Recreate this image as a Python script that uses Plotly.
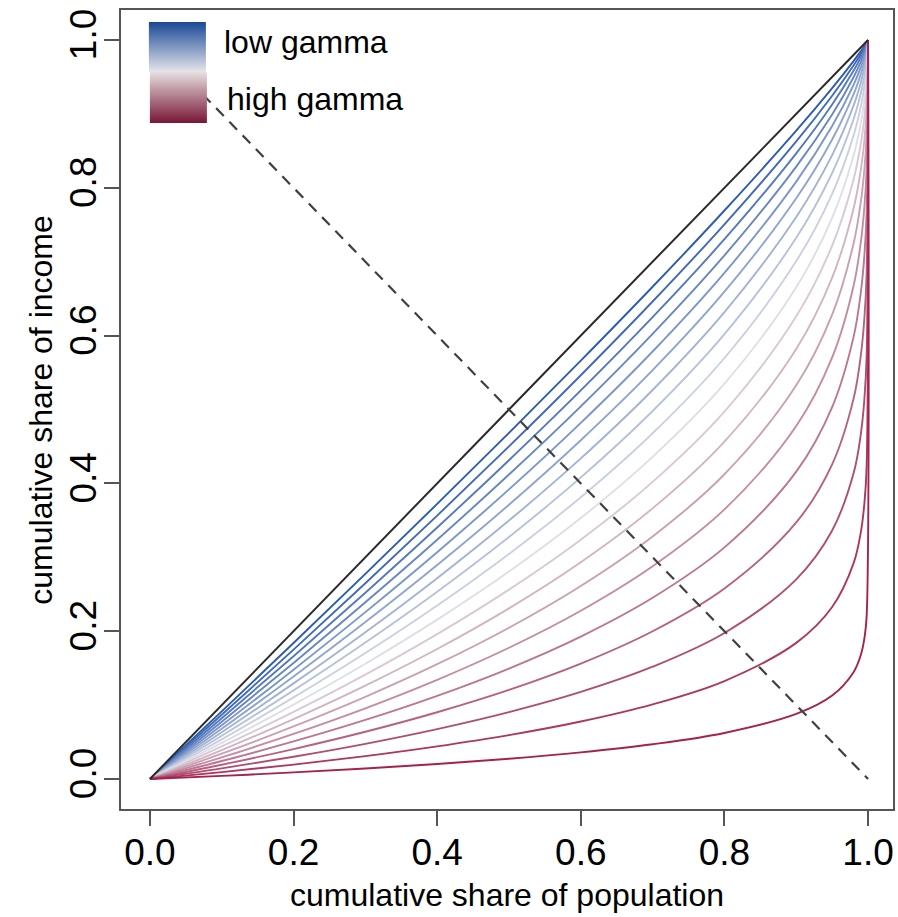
import plotly.graph_objects as go

# ---------------- data ----------------
population_share = [0.0, 0.1, 0.2, 0.3, 0.4, 0.5, 0.6, 0.7, 0.8, 0.9,
                    0.95, 0.98, 0.99, 0.995, 0.998, 1.0]

# cumulative income share for each curve, ordered from high gamma to low gamma
curve_high_01 = [0, .0042, .0089, .0142, .0202, .0273, .0360, .0470, .0623, .0880, .1129, .1449, .1682, .1910, .2201, 1]
curve_high_02 = [0, .0093, .0195, .0310, .0442, .0594, .0778, .1010, .1326, .1842, .2327, .2924, .3344, .3740, .4227, 1]
curve_high_03 = [0, .0143, .0301, .0476, .0675, .0905, .1178, .1519, .1976, .2702, .3362, .4144, .4674, .5156, .5727, 1]
curve_high_04 = [0, .0193, .0405, .0639, .0903, .1205, .1561, .1999, .2578, .3472, .4258, .5154, .5738, .6252, .6837, 1]
curve_high_05 = [0, .0243, .0508, .0799, .1125, .1495, .1927, .2452, .3134, .4160, .5033, .5990, .6590, .7099, .7658, 1]
curve_high_06 = [0, .0293, .0610, .0957, .1342, .1776, .2277, .2879, .3648, .4776, .5704, .6682, .7271, .7756, .8267, 1]
curve_mid_07 = [0, .0342, .0711, .1112, .1553, .2047, .2612, .3282, .4124, .5327, .6283, .7254, .7816, .8263, .8717, 1]
curve_mid_08 = [0, .0391, .0811, .1264, .1759, .2309, .2933, .3662, .4565, .5820, .6785, .7728, .8253, .8656, .9050, 1]
curve_mid_09 = [0, .0440, .0909, .1413, .1961, .2563, .3239, .4021, .4972, .6261, .7219, .8120, .8602, .8960, .9297, 1]
curve_mid_10 = [0, .0489, .1007, .1560, .2157, .2808, .3532, .4359, .5349, .6655, .7594, .8444, .8881, .9195, .9480, 1]
curve_mid_11 = [0, .0537, .1104, .1705, .2348, .3046, .3813, .4679, .5697, .7008, .7919, .8713, .9105, .9377, .9615, 1]
curve_mid_12 = [0, .0585, .1199, .1847, .2535, .3275, .4081, .4980, .6020, .7323, .8200, .8935, .9284, .9518, .9715, 1]
curve_mid_13 = [0, .0633, .1294, .1986, .2718, .3497, .4338, .5264, .6318, .7606, .8443, .9118, .9427, .9627, .9789, 1]
curve_low_14 = [0, .0681, .1387, .2123, .2895, .3711, .4584, .5532, .6594, .7858, .8653, .9270, .9541, .9712, .9844, 1]
curve_low_15 = [0, .0728, .1480, .2258, .3069, .3919, .4819, .5785, .6849, .8084, .8835, .9396, .9633, .9777, .9884, 1]
curve_low_16 = [0, .0775, .1571, .2391, .3238, .4120, .5043, .6024, .7085, .8286, .8992, .9500, .9706, .9827, .9914, 1]
curve_low_17 = [0, .0822, .1662, .2521, .3403, .4314, .5258, .6249, .7304, .8467, .9128, .9587, .9765, .9866, .9937, 1]
curve_low_18 = [0, .0869, .1751, .2649, .3564, .4501, .5464, .6461, .7506, .8628, .9246, .9658, .9812, .9897, .9953, 1]
curve_low_19 = [0, .0915, .1840, .2775, .3722, .4683, .5661, .6661, .7693, .8773, .9348, .9717, .9849, .9920, .9965, 1]

income_curves = [curve_high_01, curve_high_02, curve_high_03, curve_high_04, curve_high_05,
                 curve_high_06, curve_mid_07, curve_mid_08, curve_mid_09, curve_mid_10,
                 curve_mid_11, curve_mid_12, curve_mid_13, curve_low_14, curve_low_15,
                 curve_low_16, curve_low_17, curve_low_18, curve_low_19]

equality_x = [0.0, 1.0]
equality_y = [0.0, 1.0]
antidiag_x = [0.0, 1.0]
antidiag_y = [1.0, 0.0]

tick_vals = [0.0, 0.2, 0.4, 0.6, 0.8, 1.0]
tick_text = ["0.0", "0.2", "0.4", "0.6", "0.8", "1.0"]

legend_labels = ["low gamma", "high gamma"]

# ---------------- styling helpers ----------------
RED = (163, 35, 78)
MID = (222, 222, 230)
BLUE = (44, 92, 176)


def mix(c1, c2, t):
    return tuple(round(a + (b - a) * t) for a, b in zip(c1, c2))


def ramp(t):
    # t = 0 -> high gamma (red), t = 1 -> low gamma (blue)
    if t <= 0.5:
        c = mix(RED, MID, t / 0.5)
    else:
        c = mix(MID, BLUE, (t - 0.5) / 0.5)
    return "rgb(%d,%d,%d)" % c


FONT = "Liberation Sans, Arial, Helvetica, sans-serif"
W, H = 898, 917
L_PX, R_PX, T_PX, B_PX = 121, 895, 10, 809


def paper_x(px):
    return (px - L_PX) / (R_PX - L_PX)


def paper_y(py):
    return (B_PX - py) / (B_PX - T_PX)


fig = go.Figure()

n = len(income_curves)
# draw low gamma (blue) first so the high-gamma (red) curves sit on top
for i in reversed(range(n)):
    ys = income_curves[i]
    fig.add_trace(go.Scatter(
        x=population_share, y=ys, mode="lines",
        line=dict(color=ramp(i / (n - 1)), width=1.9, shape="spline", smoothing=1.0),
        showlegend=False, hoverinfo="skip"))

fig.add_trace(go.Scatter(x=equality_x, y=equality_y, mode="lines",
                         line=dict(color="#2a2a2a", width=2),
                         showlegend=False, hoverinfo="skip"))
fig.add_trace(go.Scatter(x=antidiag_x, y=antidiag_y, mode="lines",
                         line=dict(color="#404040", width=2.2, dash="11px,8px"),
                         showlegend=False, hoverinfo="skip"))

# legend gradient boxes
shapes = []
nstrips = 50
blue_top, blue_bot = (27, 74, 150), (228, 228, 234)
red_top, red_bot = (228, 222, 222), (122, 24, 56)
bx0, bx1, by0, by1 = 149, 206, 22, 72
rx0, rx1, ry0, ry1 = 150, 207, 72, 123
for k in range(nstrips):
    t = k / (nstrips - 1)
    y0 = by0 + (by1 - by0) * k / nstrips
    y1 = min(by1, by0 + (by1 - by0) * (k + 1) / nstrips + 0.8)
    c = mix(blue_top, blue_bot, t)
    shapes.append(dict(type="rect", xref="paper", yref="paper",
                       x0=paper_x(bx0), x1=paper_x(bx1), y0=paper_y(y1), y1=paper_y(y0),
                       fillcolor="rgb(%d,%d,%d)" % c, line=dict(width=0), layer="above"))
for k in range(nstrips):
    t = k / (nstrips - 1)
    y0 = ry0 + (ry1 - ry0) * k / nstrips
    y1 = min(ry1, ry0 + (ry1 - ry0) * (k + 1) / nstrips + 0.8)
    c = mix(red_top, red_bot, t)
    shapes.append(dict(type="rect", xref="paper", yref="paper",
                       x0=paper_x(rx0), x1=paper_x(rx1), y0=paper_y(y1), y1=paper_y(y0),
                       fillcolor="rgb(%d,%d,%d)" % c, line=dict(width=0), layer="above"))

annotations = [
    dict(text=legend_labels[0], xref="paper", yref="paper", x=paper_x(222), y=paper_y(42),
         xanchor="left", yanchor="middle", showarrow=False,
         font=dict(family=FONT, size=32, color="black")),
    dict(text=legend_labels[1], xref="paper", yref="paper", x=paper_x(225), y=paper_y(99),
         xanchor="left", yanchor="middle", showarrow=False,
         font=dict(family=FONT, size=32, color="black")),
    dict(text="cumulative share of population", xref="paper", yref="paper",
         x=0.5, y=paper_y(895), xanchor="center", yanchor="middle", showarrow=False,
         font=dict(family=FONT, size=32, color="black")),
    dict(text="cumulative share of income", xref="paper", yref="paper",
         x=paper_x(40), y=0.5, xanchor="center", yanchor="middle", showarrow=False,
         textangle=-90, font=dict(family=FONT, size=32, color="black")),
]

axis_common = dict(
    tickmode="array", tickvals=tick_vals, ticktext=tick_text,
    ticks="outside", ticklen=15, tickwidth=2, tickcolor="#555555",
    showline=True, mirror=True, linecolor="#555555", linewidth=2,
    showgrid=False, zeroline=False,
    tickfont=dict(family=FONT, size=37, color="black"),
)

fig.update_layout(
    width=W, height=H,
    margin=dict(l=L_PX, r=W - R_PX, t=T_PX, b=H - B_PX, pad=0),
    paper_bgcolor="white", plot_bgcolor="white",
    xaxis=dict(range=[(L_PX - 150) / 720, (R_PX - 150) / 720], ticklabelstandoff=-5, **axis_common),
    yaxis=dict(range=[-0.0406, 1.0406], tickangle=-90, ticklabelstandoff=-7, **axis_common),
    shapes=shapes, annotations=annotations,
    showlegend=False,
)

fig.write_html("out.html")
